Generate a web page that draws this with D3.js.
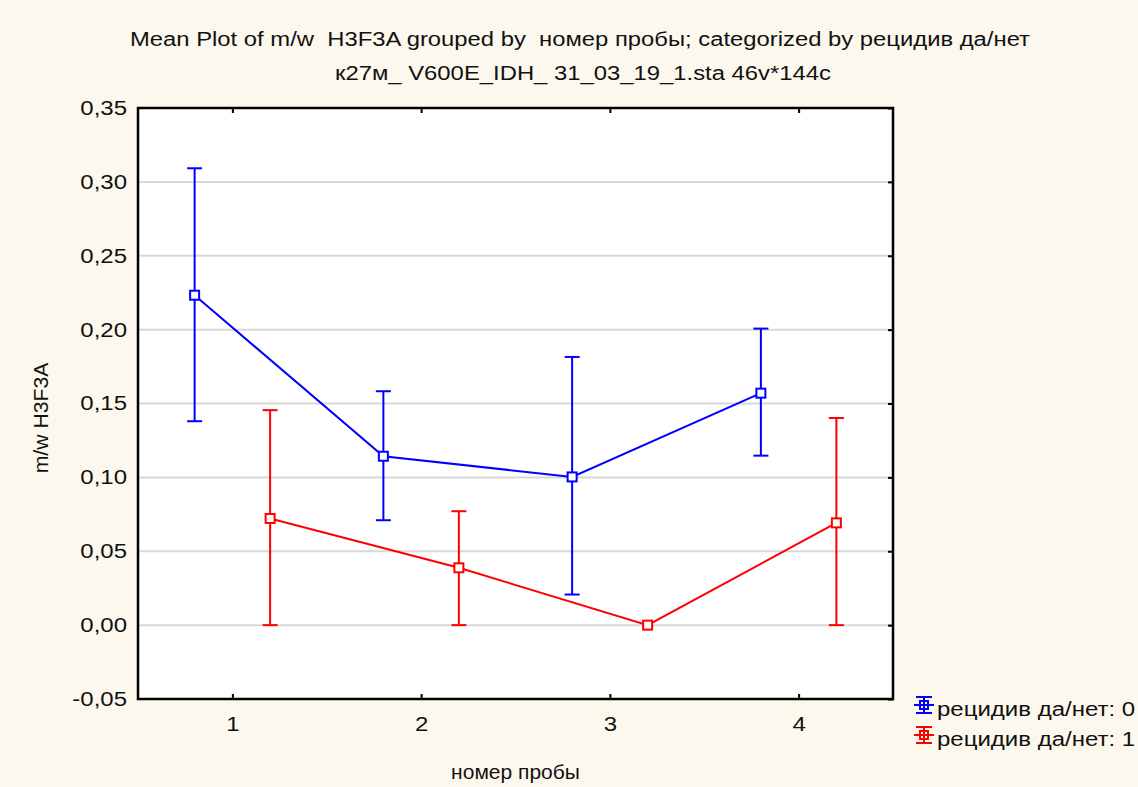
<!DOCTYPE html>
<html><head><meta charset="utf-8">
<script src="https://cdn.jsdelivr.net/npm/d3@7"></script>
<style>
html,body{margin:0;padding:0;background:#fcf8ee;}
svg{display:block;font-family:"Liberation Sans",Arial,sans-serif;}
</style></head>
<body>
<svg id="chart" width="1138" height="787"></svg>
<script>
const categories = [1, 2, 3, 4];
const seriesNames = ["рецидив да/нет: 0", "рецидив да/нет: 1"];
const seriesColors = ["#0000ff", "#ff0000"];
const mean0  = [0.2233, 0.1143, 0.1003, 0.1570];
const upper0 = [0.3092, 0.1583, 0.1815, 0.2007];
const lower0 = [0.1380, 0.0710, 0.0207, 0.1147];
const mean1  = [0.0722, 0.0388, 0.0000, 0.0692];
const upper1 = [0.1455, 0.0771, 0.0000, 0.1402];
const lower1 = [0.0000, 0.0000, 0.0000, 0.0000];
const yTicks = [-0.05, 0, 0.05, 0.10, 0.15, 0.20, 0.25, 0.30, 0.35];
const titleLine1 = "Mean Plot of m/w  H3F3A grouped by  номер пробы; categorized by рецидив да/нет";
const titleLine2 = "к27м_ V600E_IDH_ 31_03_19_1.sta 46v*144c";
const xTitle = "номер пробы";
const yTitle = "m/w H3F3A";

const series = [
  {name: seriesNames[0], color: seriesColors[0], offset: -0.2, mean: mean0, upper: upper0, lower: lower0},
  {name: seriesNames[1], color: seriesColors[1], offset: 0.2, mean: mean1, upper: upper1, lower: lower1}
];

const svg = d3.select("#chart");
const L = 138, R = 893, T = 108, B = 699;
const x = d3.scaleLinear().domain([0.5, 4.5]).range([L, R]);
const y = d3.scaleLinear().domain([-0.05, 0.35]).range([B, T]);
const fmt = v => d3.format(".2f")(v).replace(".", ",").replace("−", "-");
const FONT = "Liberation Sans, Arial, sans-serif";

function stretch(sel, k) {
  sel.each(function() {
    const len = this.getComputedTextLength();
    d3.select(this).attr("textLength", len * k).attr("lengthAdjust", "spacingAndGlyphs");
  });
}

// plot area
svg.append("rect").attr("x", L).attr("y", T).attr("width", R - L).attr("height", B - T).attr("fill", "#ffffff");

// gridlines
svg.append("g").selectAll("line").data(yTicks.filter(t => t > -0.05 && t < 0.35)).join("line")
  .attr("x1", L).attr("x2", R).attr("y1", d => y(d)).attr("y2", d => y(d))
  .attr("stroke", "#d8d8d8").attr("stroke-width", 2);

// axes with inward ticks
const fs = 20;
const yAxisL = d3.axisLeft(y).tickValues(yTicks).tickSize(0).tickPadding(11).tickFormat(fmt);
const gyl = svg.append("g").attr("transform", `translate(${L},0)`).call(yAxisL);
gyl.select(".domain").remove();
gyl.selectAll("text").attr("font-size", fs).attr("fill", "#111").attr("font-family", FONT).call(stretch, 1.2);
const yAxisR = d3.axisRight(y).tickValues(yTicks).tickSize(-5).tickFormat("");
const gyr = svg.append("g").attr("transform", `translate(${R},0)`).call(yAxisR);
gyr.select(".domain").remove();
gyr.selectAll("line").attr("stroke", "#000").attr("stroke-width", 2);

const xAxisB = d3.axisBottom(x).tickValues(categories).tickSize(-5).tickPadding(18).tickFormat(d3.format("d"));
const gxb = svg.append("g").attr("transform", `translate(0,${B})`).call(xAxisB);
gxb.select(".domain").remove();
gxb.selectAll("line").attr("stroke", "#000").attr("stroke-width", 2);
gxb.selectAll("text").attr("font-size", fs).attr("fill", "#111").attr("font-family", FONT).call(stretch, 1.2);
const xAxisT = d3.axisTop(x).tickValues(categories).tickSize(-5).tickFormat("");
const gxt = svg.append("g").attr("transform", `translate(0,${T})`).call(xAxisT);
gxt.select(".domain").remove();
gxt.selectAll("line").attr("stroke", "#000").attr("stroke-width", 2);

// frame
svg.append("rect").attr("x", L).attr("y", T).attr("width", R - L).attr("height", B - T)
  .attr("fill", "none").attr("stroke", "#000").attr("stroke-width", 2.5);

// series
const capW = 7.5, sq = 9, lw = 2;
series.forEach(s => {
  const g = svg.append("g");
  const pts = categories.map((c, i) => ({x: c + s.offset, m: s.mean[i], u: s.upper[i], l: s.lower[i]}));
  pts.filter(p => p.u > p.l).forEach(p => {
    const px = x(p.x);
    g.append("line").attr("x1", px).attr("x2", px).attr("y1", y(p.u)).attr("y2", y(p.l))
      .attr("stroke", s.color).attr("stroke-width", lw);
    [p.u, p.l].forEach(v => g.append("line").attr("x1", px - capW).attr("x2", px + capW)
      .attr("y1", y(v)).attr("y2", y(v)).attr("stroke", s.color).attr("stroke-width", lw));
  });
  g.append("path").datum(pts)
    .attr("d", d3.line().x(p => x(p.x)).y(p => y(p.m)))
    .attr("fill", "none").attr("stroke", s.color).attr("stroke-width", lw);
  g.selectAll("rect").data(pts).join("rect")
    .attr("x", p => x(p.x) - sq / 2).attr("y", p => y(p.m) - sq / 2)
    .attr("width", sq).attr("height", sq)
    .attr("fill", "#ffffff").attr("stroke", s.color).attr("stroke-width", lw);
});

// titles
svg.append("text").attr("x", 130).attr("y", 46).attr("xml:space", "preserve")
  .attr("font-size", 20).attr("fill", "#111").attr("textLength", 900).attr("lengthAdjust", "spacingAndGlyphs").text(titleLine1);
svg.append("text").attr("x", 335).attr("y", 80).attr("xml:space", "preserve")
  .attr("font-size", 20).attr("fill", "#111").attr("textLength", 496).attr("lengthAdjust", "spacingAndGlyphs").text(titleLine2);
svg.append("text").attr("x", (L + R) / 2).attr("y", 779).attr("text-anchor", "middle")
  .attr("font-size", fs).attr("fill", "#111").text(xTitle).call(stretch, 1.05);
svg.append("text").attr("transform", `translate(48,418) rotate(-90)`).attr("text-anchor", "middle")
  .attr("font-size", fs).attr("fill", "#111").text(yTitle).call(stretch, 1.06);

// legend
series.forEach((s, i) => {
  const cy = 705 + i * 30, cx = 924;
  const g = svg.append("g");
  g.append("line").attr("x1", cx).attr("x2", cx).attr("y1", cy - 8).attr("y2", cy + 8).attr("stroke", s.color).attr("stroke-width", lw);
  [cy - 8, cy + 8].forEach(v => g.append("line").attr("x1", cx - 8).attr("x2", cx + 8).attr("y1", v).attr("y2", v).attr("stroke", s.color).attr("stroke-width", lw));
  g.append("line").attr("x1", cx - 10).attr("x2", cx + 10).attr("y1", cy).attr("y2", cy).attr("stroke", s.color).attr("stroke-width", lw);
  g.append("rect").attr("x", cx - 4).attr("y", cy - 4).attr("width", 8).attr("height", 8).attr("fill", "none").attr("stroke", s.color).attr("stroke-width", lw);
  g.append("text").attr("x", 937).attr("y", cy + 11).attr("font-size", fs).attr("fill", "#111").text(s.name).call(stretch, 1.2);
});
</script>
</body></html>
